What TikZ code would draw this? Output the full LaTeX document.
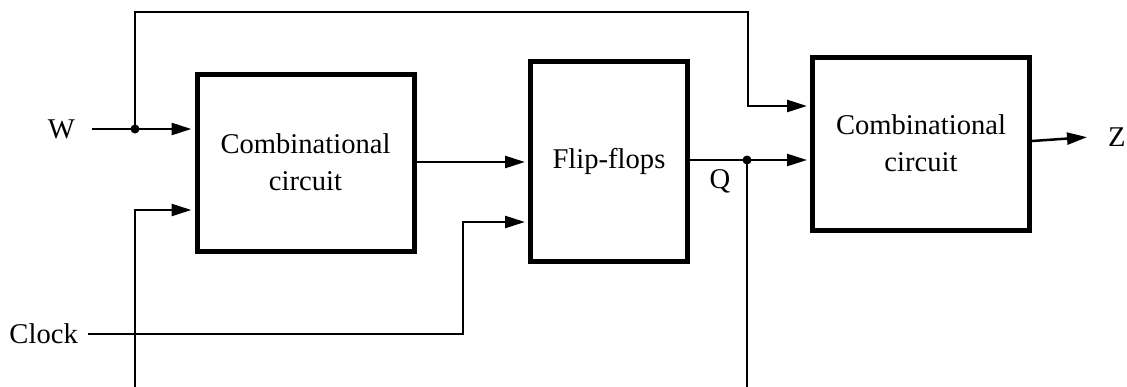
\documentclass[tikz,border=0pt]{standalone}
\usepackage{fontspec}
\setmainfont{Liberation Serif}
\usetikzlibrary{arrows.meta}
\begin{document}
\begin{tikzpicture}[x=1pt,y=-1pt,
  wire/.style={line width=2.5pt},
  sig/.style={wire,-{Triangle[length=20pt,width=12pt]},shorten >=3pt},
  block/.style={draw,line width=5pt,rectangle,inner sep=0pt,align=center,font=\fontsize{28.6}{37}\selectfont},
  lbl/.style={inner ysep=0pt,font=\fontsize{28.6}{34}\selectfont},
  junction/.style={circle,fill,inner sep=0pt,minimum size=9pt}]
\useasboundingbox (0,0) rectangle (1127,386);
\clip (0,0) rectangle (1127,386);
% blocks
\node[block,minimum width=217pt,minimum height=177pt] (cc1) at (305.5,162.5) {Combinational\\circuit};
\node[block,minimum width=157pt,minimum height=200pt] (ff) at (609,161) {Flip-flops};
\node[block,minimum width=217pt,minimum height=173pt] (cc2) at (921,143.5) {Combinational\\circuit};
% labels
\node[lbl,anchor=east,inner xsep=17pt] (W) at (92,129) {W};
\node[lbl,anchor=east,inner xsep=10pt] (clk) at (88,334) {Clock};
\node[lbl] (Q) at (720,181) {Q};
\node[lbl,anchor=west,inner xsep=18pt] (Z) at (1090,137) {Z};
% coordinates
\coordinate (jw) at (135,129);
\coordinate (jq) at (747,160);
\coordinate (tr) at (748,12);
\coordinate (w2) at (cc2.west |- 0,106);
\coordinate (ck) at (463,222);
\coordinate (bot) at (747,395);
\coordinate (fb) at (135,210);
% connectors
\draw[sig] (W.east) -- (cc1.west |- W.east);
\draw[sig] (jw) |- (tr) |- (w2);
\draw[sig] (clk.east) -| (ck) -- (ff.west |- ck);
\draw[sig] (cc1.east |- 0,162) -- (ff.west |- 0,162);
\draw[sig] (ff.east |- jq) -- (cc2.west |- jq);
\draw[sig] (jq) -- (bot) -| (fb) -- (cc1.west |- fb);
\draw[sig] (cc2.east |- 0,141) -- (Z.west);
% junctions
\node[junction] at (jw) {};
\node[junction] at (jq) {};
\end{tikzpicture}
\end{document}
